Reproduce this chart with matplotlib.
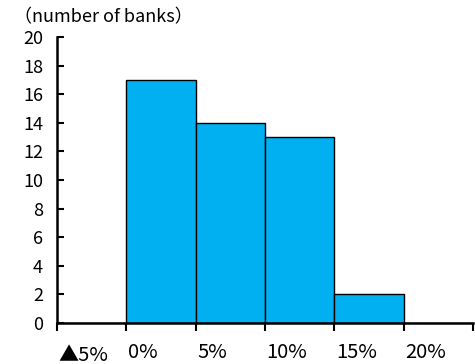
import matplotlib.pyplot as plt

plt.rcParams['font.family'] = ['Noto Sans CJK JP', 'DejaVu Sans']

# bins of the distribution (left edge, %) and number of banks
bin_left = [-5, 0, 5, 10, 15, 20]
counts = [0, 17, 14, 13, 2, 0]
bin_labels = ['▲5%', '0%', '5%', '10%', '15%', '20%']
y_ticks = [0, 2, 4, 6, 8, 10, 12, 14, 16, 18, 20]

fig = plt.figure(figsize=(4.75, 3.64), dpi=100)
ax = fig.add_axes([0.12, 0.1126, 0.876, 0.7854])

ax.bar(bin_left, counts, width=5, align='edge', color='#00B0F0',
       edgecolor='black', linewidth=1)

ax.set_xlim(-5, 25)
ax.set_ylim(0, 20)
ax.set_yticks(y_ticks)
ax.set_xticks(bin_left + [25])
ax.set_xticklabels([])
ax.tick_params(axis='y', direction='in', length=5, width=1.5, labelsize=13, pad=10)
ax.tick_params(axis='x', direction='out', length=6, width=1.5)

for s in ['top', 'right']:
    ax.spines[s].set_visible(False)
for s in ['left', 'bottom']:
    ax.spines[s].set_linewidth(1.8)

# x labels sit just right of each boundary tick
for x, lab in zip(bin_left, bin_labels):
    dy = -0.112 if lab.startswith('▲') else -0.103
    ax.text(x + 0.1, dy, lab, transform=ax.get_xaxis_transform(),
            ha='left', va='center', fontsize=14.5)

fig.text(0.03, 0.952, '（number of banks）', ha='left', va='center', fontsize=13)

fig.savefig('out.png', dpi=100)
